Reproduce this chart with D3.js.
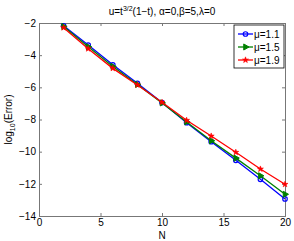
<!DOCTYPE html>
<html>
<head>
<meta charset="utf-8">
<script src="https://cdn.jsdelivr.net/npm/d3@7"></script>
<style>
  body { margin: 0; background: #fff; }
  svg { display: block; font-family: "Liberation Sans", Arial, sans-serif; }
  .tick text { font-size: 10px; fill: #000; }
</style>
</head>
<body>
<div id="chart"></div>
<script>
// values
const nValues = [2, 4, 6, 8, 10, 12, 14, 16, 18, 20];
const mu11 = [-2.17, -3.37, -4.60, -5.75, -6.95, -8.20, -9.38, -10.54, -11.72, -12.94];
const mu15 = [-2.22, -3.48, -4.70, -5.82, -6.97, -8.15, -9.32, -10.40, -11.50, -12.65];
const mu19 = [-2.29, -3.60, -4.82, -5.85, -6.93, -8.05, -9.03, -10.04, -11.08, -12.03];
const xTicks = [0, 5, 10, 15, 20];
const yTicks = [-14, -12, -10, -8, -6, -4, -2];

const series = [
  { name: "\u03bc=1.1", values: mu11, color: "#0000ff", marker: "circle" },
  { name: "\u03bc=1.5", values: mu15, color: "#008000", marker: "triangle" },
  { name: "\u03bc=1.9", values: mu19, color: "#ff0000", marker: "star" }
];

const W = 294, H = 241;
const margin = { top: 23, right: 9, bottom: 25, left: 39 };
const width = W - margin.left - margin.right;
const height = H - margin.top - margin.bottom;

const svg = d3.select("#chart").append("svg")
  .attr("width", W).attr("height", H);

const g = svg.append("g").attr("transform", `translate(${margin.left},${margin.top})`);

const x = d3.scaleLinear().domain([0, 20]).range([0, width]);
const y = d3.scaleLinear().domain([-14, -2]).range([height, 0]);

const fmt = d => d < 0 ? "\u2212" + Math.abs(d) : String(d);

// axes with inward ticks, on all four sides
g.append("g").attr("transform", `translate(0,${height})`)
  .call(d3.axisBottom(x).tickValues(xTicks).tickSize(-3).tickPadding(3).tickFormat(fmt));
g.append("g")
  .call(d3.axisLeft(y).tickValues(yTicks).tickSize(-3).tickPadding(3).tickFormat(fmt));
g.append("g")
  .call(d3.axisTop(x).tickValues(xTicks).tickSize(-3).tickFormat(""));
g.append("g").attr("transform", `translate(${width},0)`)
  .call(d3.axisRight(y).tickValues(yTicks).tickSize(-3).tickFormat(""));
g.selectAll(".domain").attr("stroke", "#777");
g.selectAll(".tick line").attr("stroke", "#777");

const symbols = {
  circle: d3.symbol().type(d3.symbolCircle).size(16),
  triangle: d3.symbol().type(d3.symbolTriangle).size(16),
  star: d3.symbol().type(d3.symbolStar).size(11)
};
const strokeW = { circle: 1.2, triangle: 1, star: 0.6 };
const rot = m => m === "triangle" ? " rotate(90)" : "";

const line = d3.line().x((d, i) => x(nValues[i])).y(d => y(d));

series.forEach(s => {
  g.append("path").datum(s.values)
    .attr("fill", "none").attr("stroke", s.color).attr("stroke-width", 1.3)
    .attr("d", line);
  g.selectAll(null).data(s.values).join("path")
    .attr("transform", (d, i) => `translate(${x(nValues[i])},${y(d)})${rot(s.marker)}`)
    .attr("d", symbols[s.marker]())
    .attr("fill", s.marker === "circle" ? "none" : s.color)
    .attr("stroke", s.color).attr("stroke-width", strokeW[s.marker]);
});

// legend
const lg = svg.append("g").attr("transform", "translate(234,25)");
lg.append("rect").attr("width", 50).attr("height", 43)
  .attr("fill", "#fff").attr("stroke", "#000").attr("stroke-width", 0.8);
series.forEach((s, i) => {
  const ly = 9 + i * 13;
  lg.append("line").attr("x1", 4).attr("x2", 19).attr("y1", ly).attr("y2", ly)
    .attr("stroke", s.color).attr("stroke-width", 1.3);
  lg.append("path").attr("transform", `translate(11.5,${ly})${rot(s.marker)}`)
    .attr("d", symbols[s.marker]())
    .attr("fill", s.marker === "circle" ? "none" : s.color)
    .attr("stroke", s.color).attr("stroke-width", strokeW[s.marker]);
  lg.append("text").attr("x", 20).attr("y", ly + 3.5)
    .style("font-size", "10px").text(s.name);
});

// title
const title = svg.append("text").attr("x", margin.left + width / 2).attr("y", 15)
  .attr("text-anchor", "middle").style("font-size", "10px");
title.append("tspan").text("u=t");
title.append("tspan").attr("dy", -4).style("font-size", "7px").text("3/2");
title.append("tspan").attr("dy", 4).text("(1\u2212t), \u03b1=0,\u03b2=5,\u03bb=0");

// axis labels
svg.append("text").attr("x", margin.left + width / 2).attr("y", 239)
  .attr("text-anchor", "middle").style("font-size", "10px").text("N");
const yl = svg.append("text")
  .attr("transform", `translate(12,${margin.top + height / 2}) rotate(-90)`)
  .attr("text-anchor", "middle").style("font-size", "10px");
yl.append("tspan").text("log");
yl.append("tspan").attr("dy", 3).style("font-size", "7px").text("10");
yl.append("tspan").attr("dy", -3).text("(Error)");
</script>
</body>
</html>
